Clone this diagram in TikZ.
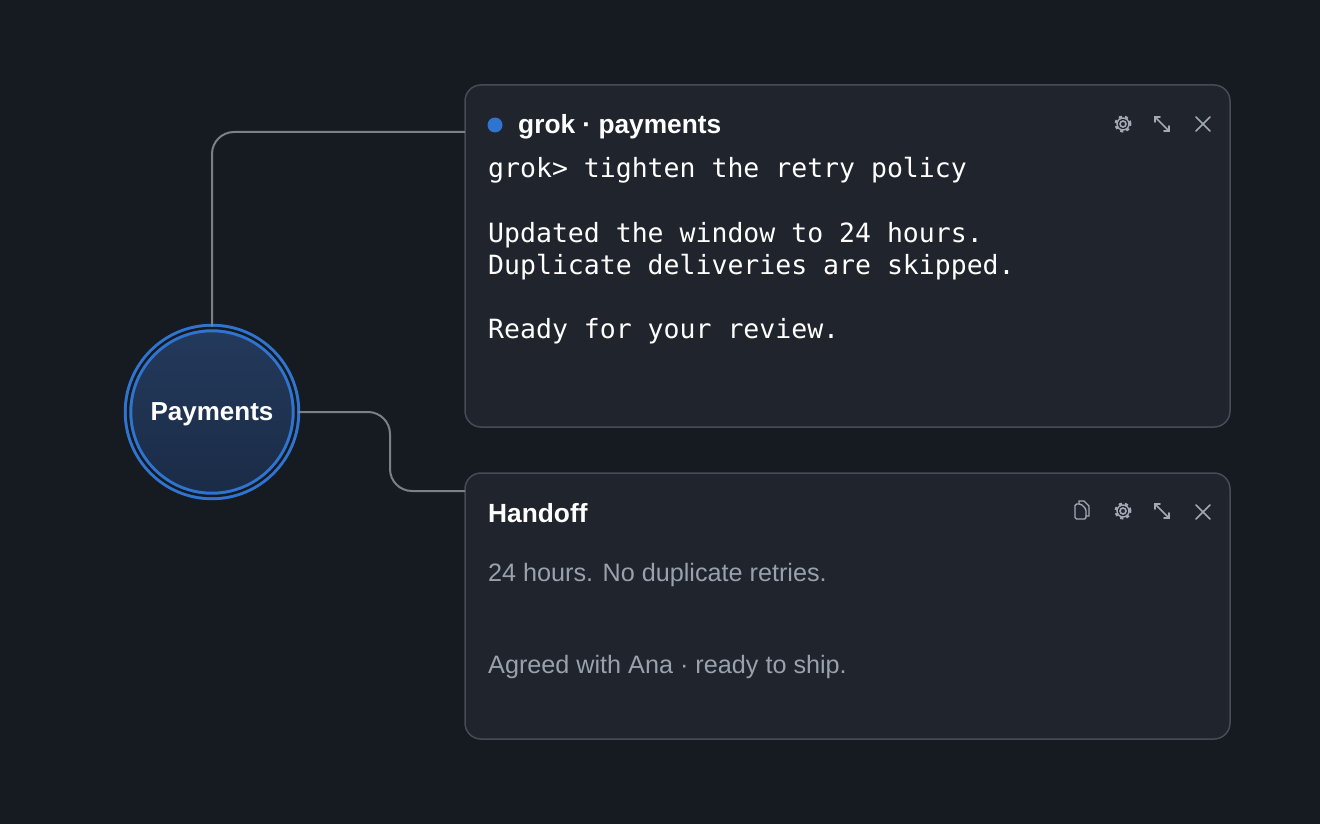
\documentclass[tikz,border=0pt]{standalone}
\usepackage{fontspec}
\setmainfont{Liberation Sans}
\setmonofont{DejaVu Sans Mono}
\usetikzlibrary{positioning,calc}
\definecolor{bg}{HTML}{161A21}
\definecolor{panel}{HTML}{1F242D}
\definecolor{edgegray}{HTML}{454C57}
\definecolor{wire}{HTML}{7A808A}
\definecolor{ring}{HTML}{2F74D0}
\definecolor{hubtop}{HTML}{243A5C}
\definecolor{hubbot}{HTML}{1A2B46}
\definecolor{icon}{HTML}{A3A9B2}
\definecolor{soft}{HTML}{9AA1AB}
\tikzset{
  card/.style={draw=edgegray, line width=1.5pt, fill=panel, rounded corners=16pt},
  wire/.style={draw=wire, line width=2pt, rounded corners=22pt},
  title/.style={anchor=base west, inner sep=0pt, text=white, font=\bfseries\fontsize{26.3}{30}\selectfont},
  mono/.style={anchor=base west, inner sep=0pt, text=white, font=\ttfamily\fontsize{26.5}{32}\selectfont},
  note/.style={anchor=base west, inner sep=0pt, text=soft, font=\fontsize{25.2}{30}\selectfont},
  ico/.style={draw=icon, line width=1.6pt, line cap=round}
}
\newcommand{\gear}[1]{%
  \draw[ico] (#1) circle (3pt);
  \draw[icon, line width=3pt, dash pattern=on 3pt off 3pt] (#1) circle (7pt);
  \draw[ico, line width=1.4pt] (#1) circle (6pt);}
\newcommand{\grow}[1]{%
  \draw[ico] ($(#1)+(-7,-7)$) -- ($(#1)+(7,7)$);
  \draw[ico] ($(#1)+(-7,-2)$) -- ($(#1)+(-7,-7)$) -- ($(#1)+(-2,-7)$);
  \draw[ico] ($(#1)+(7,2)$) -- ($(#1)+(7,7)$) -- ($(#1)+(2,7)$);}
\newcommand{\shut}[1]{%
  \draw[ico] ($(#1)+(-7,-7)$) -- ($(#1)+(7,7)$);
  \draw[ico] ($(#1)+(-7,7)$) -- ($(#1)+(7,-7)$);}
\begin{document}
\begin{tikzpicture}[x=1pt, y=-1pt]
  \fill[bg] (0,0) rectangle (1320,824);
  \useasboundingbox (0,0) rectangle (1320,824);

  % cards
  \path[card] (465,85) rectangle (1230,427);
  \path[card] (465,473) rectangle (1230,739);
  \coordinate (agent) at (465,132);
  \coordinate (hand) at (465,491);

  % hub
  \node[circle, minimum size=168pt, draw=ring, line width=3pt, double=bg,
        double distance=2.5pt, top color=hubtop, bottom color=hubbot] (hub) at (212,412) {};
  \node[text=white, font=\bfseries\fontsize{26}{30}\selectfont] (hublabel) at ([yshift=-2pt]hub.center) {Payments};

  \draw[wire] (hub.north) -- (212,132) -- (agent);
  \draw[wire] (hub.east) -- (390,412) -- (390,491) -- (hand);

  % agent card
  \fill[ring] (495,125) circle (7.5pt);
  \node[title] (agenttitle) at (518,134) {grok · payments};
  \node[mono] (prompt) at (488,178) {grok> tighten the retry policy};
  \node[mono] (reply1) at (488,242) {Updated the window to 24 hours.};
  \node[mono] (reply2) at (488,274) {Duplicate deliveries are skipped.};
  \node[mono] (reply3) at (488,338) {Ready for your review.};
  \gear{1123,124} \grow{1162,124} \shut{1203,124}

  % handoff card
  \node[title] (handtitle) at (488,522) {Handoff};
  \node[note] (sum) at (488,581) {24 hours. No duplicate retries.};
  \node[note] (sign) at (488,673) {Agreed with Ana · ready to ship.};
  \draw[ico, line width=1.4pt, rounded corners=1.5pt] (1075,504) -- (1075,519) -- (1086,519) -- (1086,509) -- (1081,504) -- cycle;
  \draw[ico, line width=1.4pt] (1079,504) -- (1079,501) -- (1084,501) -- (1089,506) -- (1089,516) -- (1086,516);
  \gear{1123,511} \grow{1162,511} \shut{1203,512}
\end{tikzpicture}
\end{document}
